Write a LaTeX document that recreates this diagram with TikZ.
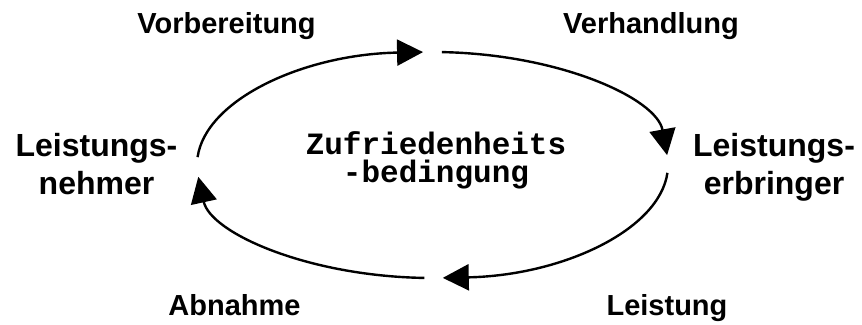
\documentclass[tikz,border=0pt]{standalone}
\usepackage{fontspec}
\setmainfont{Liberation Sans}
\setmonofont{Liberation Mono}
\usetikzlibrary{arrows.meta}
\begin{document}
\begin{tikzpicture}[x=1pt,y=1pt,
  cyc/.style={line width=2.4pt, -{Triangle[length=26pt,width=26pt]}},
  lab/.style={font=\fontsize{29}{33}\selectfont\bfseries, anchor=base, inner sep=0pt},
  big/.style={font=\fontsize{32}{38}\selectfont\bfseries, align=center, anchor=base, inner sep=0pt},
  mid/.style={font=\fontsize{31}{28}\selectfont\ttfamily\bfseries, align=center, anchor=base, inner sep=0pt}]
\useasboundingbox (0,0) rectangle (862,324);
\fill[white] (0,0) rectangle (862,324);
\coordinate (C) at (432.5,159);
\coordinate (p1) at ([shift={(176:235.5 and 113)}]C);
\coordinate (p2) at ([shift={(87.7:235.5 and 113)}]C);
\coordinate (p3) at ([shift={(-4:235.5 and 113)}]C);
\coordinate (p4) at ([shift={(-92:235.5 and 113)}]C);
\draw[cyc] (p1) arc[start angle=176, end angle=92.3, x radius=235.5, y radius=113];
\draw[cyc] (p2) arc[start angle=87.7, end angle=5, x radius=235.5, y radius=113];
\draw[cyc] (p3) arc[start angle=-4, end angle=-87.5, x radius=235.5, y radius=113];
\draw[cyc] (p4) arc[start angle=-92, end angle=-174, x radius=235.5, y radius=113];
\node[lab] (vor) at (226.5,290) {Vorbereitung};
\node[lab] (ver) at (651,290) {Verhandlung};
\node[lab] (abn) at (234.5,9) {Abnahme};
\node[lab] (lei) at (667,9) {Leistung};
\node[big] (ln) at (96.5,129) {Leistungs-\\nehmer};
\node[big] (le) at (774,129) {Leistungs-\\erbringer};
\node[mid] (zb) at (436,141) {Zufriedenheits\\-bedingung};
\end{tikzpicture}
\end{document}
